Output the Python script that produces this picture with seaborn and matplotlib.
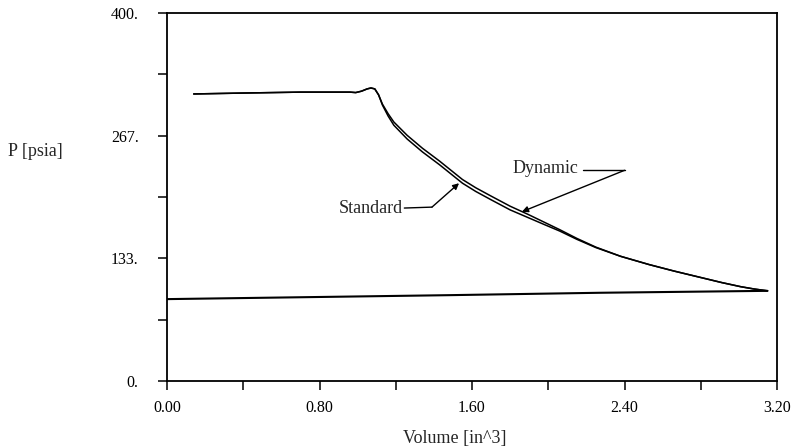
import numpy as np
import pandas as pd
import matplotlib
matplotlib.use("Agg")
import matplotlib.pyplot as plt
import seaborn as sns

# ---- data ----
volume = [0.14, 0.40, 0.70, 0.96, 0.99, 1.02, 1.05, 1.07, 1.09, 1.11, 1.13, 1.16,
          1.19, 1.26, 1.34, 1.43, 1.55, 1.62, 1.70, 1.80, 1.89, 1.98, 2.06, 2.15,
          2.25, 2.38, 2.53, 2.66, 2.80, 2.91, 3.01, 3.08, 3.15]
p_standard = [312, 313, 314, 314, 313.5, 315, 317.5, 318.5, 317.5, 311, 300, 288,
              278, 263, 249, 235, 215, 206, 197, 186, 178, 170, 163, 154,
              145, 135.5, 126.5, 119.5, 112.5, 107, 102.5, 100, 98]
p_dynamic = [312, 313, 314, 314, 313.5, 315, 317.5, 318.5, 317.5, 311, 301, 290.5,
             281.5, 267, 253, 239, 219, 210, 201, 190, 181.5, 172.5, 164.5, 155,
             145.5, 135.5, 126.5, 119.5, 112.5, 107, 102.5, 100, 98]
intake_volume = [0.0, 1.48, 2.27, 3.15]
intake_p = [89, 93.3, 95.9, 98]

y_ticks = [0, 133.33, 266.67, 400]
y_ticklabels = ["0.", "133.", "267.", "400."]
y_minor = [66.67, 200, 333.33]
x_ticks = [0.0, 0.8, 1.6, 2.4, 3.2]
x_ticklabels = ["0.00", "0.80", "1.60", "2.40", "3.20"]
x_minor = [0.4, 1.2, 2.0, 2.8]

df_std = pd.DataFrame({"Volume": volume, "P": p_standard})
df_dyn = pd.DataFrame({"Volume": volume, "P": p_dynamic})
df_int = pd.DataFrame({"Volume": intake_volume, "P": intake_p})

sns.set_style("ticks")
plt.rcParams["font.family"] = ["Liberation Serif", "DejaVu Serif"]

fig = plt.figure(figsize=(8, 4.48), dpi=100)
ax = fig.add_axes([167 / 800, 1 - 381 / 448, 610 / 800, 368 / 448])

sns.lineplot(data=df_std, x="Volume", y="P", ax=ax, color="black", lw=1.1)
sns.lineplot(data=df_dyn, x="Volume", y="P", ax=ax, color="black", lw=1.1)
sns.lineplot(data=df_int, x="Volume", y="P", ax=ax, color="black", lw=1.5)

ax.set_xlim(0, 3.2)
ax.set_ylim(0, 400)
ax.set_xticks(x_ticks)
ax.set_xticklabels(x_ticklabels)
ax.set_xticks(x_minor, minor=True)
ax.set_yticks(y_ticks)
ax.set_yticklabels(y_ticklabels)
ax.set_yticks(y_minor, minor=True)
ax.set_xlabel("")
ax.set_ylabel("")

for s in ax.spines.values():
    s.set_visible(True)
    s.set_color("black")
    s.set_linewidth(1.3)

ax.tick_params(axis="both", which="both", direction="out", length=6.5,
               width=1.1, color="black", labelsize=11.5, labelcolor="black")
ax.tick_params(axis="y", which="major", pad=14)
ax.tick_params(axis="x", which="major", pad=7)
ax.tick_params(top=False, right=False, which="both")

# annotations
ax.text(1.238, 188, "Standard", ha="right", va="center", fontsize=13)
ax.plot([1.245, 1.39], [188, 189], color="black", lw=1.0)
ax.annotate("", xy=(1.532, 215), xytext=(1.39, 189),
            arrowprops=dict(arrowstyle="-|>", color="black", lw=1.0,
                            mutation_scale=9, shrinkA=0, shrinkB=0))

ax.text(1.81, 231.5, "Dynamic", ha="left", va="center", fontsize=13)
ax.plot([2.18, 2.40], [229, 229], color="black", lw=1.0)
ax.annotate("", xy=(1.862, 184), xytext=(2.40, 229),
            arrowprops=dict(arrowstyle="-|>", color="black", lw=1.0,
                            mutation_scale=9, shrinkA=0, shrinkB=0))

fig.text(35 / 800, 1 - 152 / 448, "P [psia]", ha="center", va="center", fontsize=13)
fig.text(455 / 800, 1 - 438 / 448, "Volume [in^3]", ha="center", va="center", fontsize=13)

fig.savefig("out.png", dpi=100)
